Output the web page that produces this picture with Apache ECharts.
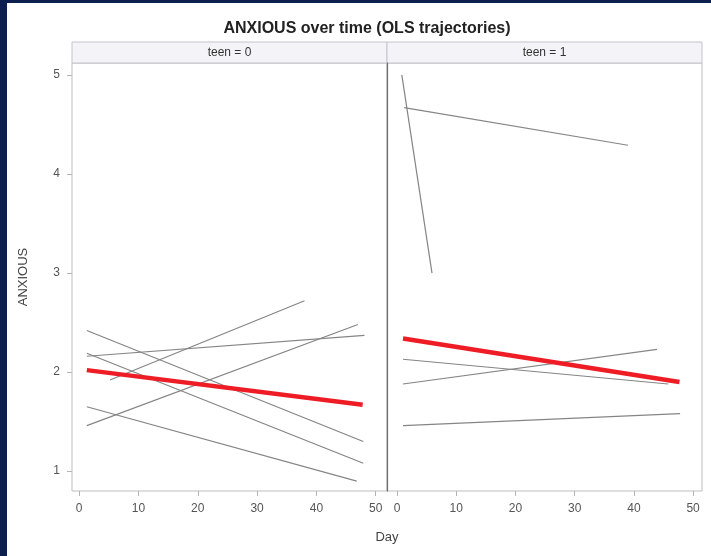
<html>
<head>
    <meta http-equiv="Content-Type" content="text/html; charset=utf-8" />
    <script type="text/javascript" src="https://cdn.jsdelivr.net/npm/echarts@6/dist/echarts.min.js"></script>
    <style>
        body { margin: 0; background: #0c2050; }
        #frame { position: absolute; left: 7px; top: 3px; width: 704px; height: 553px; background: #fff; }
        #main { position: absolute; left: 0; top: 0; width: 711px; height: 556px; }
    </style>
</head>
<body>
<div id="frame"></div>
<div id="main"></div>
<script type="text/javascript">
    // panels
    var panels = ['teen = 0', 'teen = 1'];
    var xTicks = [0, 10, 20, 30, 40, 50];
    var yTicks = [1, 2, 3, 4, 5];

    // individual OLS trajectories, [start, end] as [Day, ANXIOUS]
    var teen0Lines = [
        [[1.3, 2.42], [47.9, 1.30]],
        [[1.3, 2.19], [47.9, 1.08]],
        [[1.3, 2.16], [48.1, 2.37]],
        [[1.3, 1.46], [47.0, 2.48]],
        [[1.3, 1.65], [46.8, 0.90]],
        [[5.2, 1.92], [38.0, 2.72]]
    ];
    var teen1Lines = [
        [[0.8, 5.00], [5.9, 3.00]],
        [[1.2, 4.67], [39.0, 4.29]],
        [[1.0, 2.13], [45.8, 1.88]],
        [[1.0, 1.88], [43.9, 2.23]],
        [[1.0, 1.46], [47.8, 1.58]]
    ];
    // average trajectory per panel
    var teen0Mean = [[1.3, 2.02], [47.8, 1.67]];
    var teen1Mean = [[1.0, 2.34], [47.7, 1.90]];

    var font = '"Liberation Sans", Arial, sans-serif';
    var grayLine = { color: '#858585', width: 1.2 };
    var redLine = { color: '#ee1c25', width: 4.5 };

    function xAxisFor(i, min, max) {
        return {
            type: 'value', gridIndex: i, min: min, max: max,
            axisLine: { show: false, onZero: false },
            axisTick: { show: true, inside: false, length: 5, customValues: xTicks, lineStyle: { color: '#b5b5b5' } },
            axisLabel: { customValues: xTicks, color: '#555', fontFamily: font, fontSize: 12, margin: 12 },
            splitLine: { show: false }
        };
    }

    function lineSeries(lines, idx, style, z) {
        return lines.map(function (seg) {
            return {
                type: 'line', xAxisIndex: idx, yAxisIndex: idx, data: seg,
                showSymbol: false, silent: true, lineStyle: style, z: z
            };
        });
    }

    var myChart = echarts.init(document.getElementById('main'), null, { renderer: 'canvas' });

    var series = []
        .concat(lineSeries(teen0Lines, 0, grayLine, 2))
        .concat(lineSeries(teen1Lines, 1, grayLine, 2))
        .concat(lineSeries([teen0Mean], 0, redLine, 3))
        .concat(lineSeries([teen1Mean], 1, redLine, 3));

    var option = {
        animation: false,
        title: {
            text: 'ANXIOUS over time (OLS trajectories)',
            left: 362, top: 16, textAlign: 'center',
            textStyle: { fontFamily: font, fontSize: 16, fontWeight: 'bold', color: '#222' }
        },
        grid: [
            { left: 72, top: 63, width: 315, height: 428, show: true, borderColor: '#bdbdbd', borderWidth: 1 },
            { left: 387, top: 63, width: 315, height: 428, show: true, borderColor: '#bdbdbd', borderWidth: 1 }
        ],
        xAxis: [xAxisFor(0, -1.2, 51.9), xAxisFor(1, -1.7, 51.5)],
        yAxis: [
            {
                type: 'value', gridIndex: 0, min: 0.8, max: 5.12,
                name: 'ANXIOUS', nameLocation: 'middle', nameRotate: 90, nameGap: 42,
                nameTextStyle: { fontFamily: font, fontSize: 13, color: '#444' },
                axisLine: { show: false, onZero: false },
                axisTick: { show: true, inside: false, length: 5, customValues: yTicks, lineStyle: { color: '#b5b5b5' } },
                axisLabel: { customValues: yTicks, color: '#555', fontFamily: font, fontSize: 12, margin: 12 },
                splitLine: { show: false }
            },
            {
                type: 'value', gridIndex: 1, min: 0.8, max: 5.12,
                axisLine: { show: true, onZero: false, lineStyle: { color: '#6e6e6e', width: 1.2 } },
                axisTick: { show: false }, axisLabel: { show: false },
                splitLine: { show: false }
            }
        ],
        graphic: [
            { type: 'rect', shape: { x: 72, y: 42, width: 315, height: 21 }, style: { fill: '#f4f4f8', stroke: '#c4c4cc', lineWidth: 1 } },
            { type: 'rect', shape: { x: 387, y: 42, width: 315, height: 21 }, style: { fill: '#f4f4f8', stroke: '#c4c4cc', lineWidth: 1 } },
            { type: 'text', x: 229.5, y: 52.5, style: { text: panels[0], fill: '#333', font: '12px ' + font, textAlign: 'center', textVerticalAlign: 'middle' } },
            { type: 'text', x: 544.5, y: 52.5, style: { text: panels[1], fill: '#333', font: '12px ' + font, textAlign: 'center', textVerticalAlign: 'middle' } },
            { type: 'text', x: 387, y: 537, style: { text: 'Day', fill: '#444', font: '13px ' + font, textAlign: 'center', textVerticalAlign: 'middle' } }
        ],
        series: series
    };

    myChart.setOption(option);
</script>
</body>
</html>
